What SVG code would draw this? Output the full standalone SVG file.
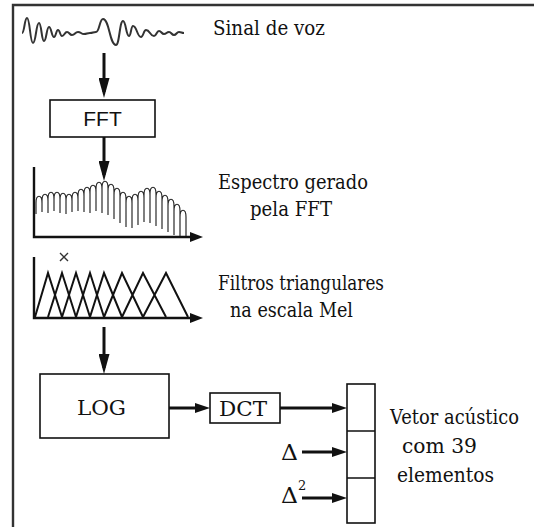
<svg xmlns="http://www.w3.org/2000/svg" width="534" height="527" viewBox="0 0 534 527">
<style>
.t{font-family:"DejaVu Serif","Liberation Serif","Times New Roman",serif;font-size:21px;fill:#111}
.s{font-family:"Liberation Sans",Arial,sans-serif;font-size:21px;fill:#111}
.box{fill:#fff;stroke:#111;stroke-width:1.6}
.ln{fill:none;stroke:#111;stroke-width:3}
.ax{fill:none;stroke:#111;stroke-width:2.4}
.sp{fill:none;stroke:#2a2a2a;stroke-width:1.2}
.tri{fill:none;stroke:#111;stroke-width:2}
</style>
<defs>
<marker id="av" viewBox="0 0 20 11" refX="14" refY="5.5" markerWidth="20" markerHeight="11" markerUnits="userSpaceOnUse" orient="auto"><path d="M0,0 L20,5.5 L0,11 z" fill="#111"/></marker>
<marker id="ah" viewBox="0 0 15 10" refX="9" refY="5" markerWidth="15" markerHeight="10" markerUnits="userSpaceOnUse" orient="auto"><path d="M0,0 L15,5 L0,10 z" fill="#111"/></marker>
</defs>
<rect width="534" height="527" fill="#fff"/>
<g id="frame"><path d="M13,527 V5 H534" fill="none" stroke="#333" stroke-width="2.4"/></g>

<g id="signal">
<path d="M22,33 C24.5,33 24.5,18 27,18 C30,18 30,43 33,43 C36,43 36,23 39,23 C41.5,23 41.5,41 44,41 C46.5,41 46.5,27 49,27 C51.5,27 51.5,37 54,37 C56,37 56,30 58,30 C60,30 60,36 62,36 C64.5,36 64.5,32 67,32 C69.5,32 69.5,35 72,35 C75,35 75,32 78,32 C81,32 81,34 84,34 C87,34 87,33 90,33 C93,33 93,32 96,32 C99.5,32 99.5,19 103,19 C109.5,19 109.5,45 116,45 C119.5,45 119.5,21 123,21 C126,21 126,36 129,36 C131,36 131,26 133,26 C137,26 137,37 141,37 C143.5,37 143.5,30 146,30 C150,30 150,36 154,36 C156.5,36 156.5,31 159,31 C161.5,31 161.5,34 164,34 C166.5,34 166.5,32 169,32 C171.5,32 171.5,35 174,35 C176.5,35 176.5,32 179,32 C181.5,32 181.5,33 184,33" fill="none" stroke="#333" stroke-width="2" stroke-linejoin="round"/>
<text class="t" x="213" y="35" textLength="112" lengthAdjust="spacingAndGlyphs">Sinal de voz</text>
</g>

<g id="fft"><rect class="box" x="50" y="100" width="105" height="37"/><text class="s" x="102.5" y="126" text-anchor="middle">FFT</text></g>

<g id="spectrum">
<path class="ax" d="M34,167 V237 H192"/>
<path d="M190,232 L203,237 L190,242 z" fill="#111"/>
<path class="sp" d="M36,214 V203 C36,194 42,194 42,203 V212 V201 C42,192 48,192 48,201 V213 V199 C48,190 54,190 54,199 V211 V199 C54,190 60,190 60,199 V213 V200 C60,191 66,191 66,200 V214 V201 C66,192 72,192 72,201 V212 V199 C72,190 78,190 78,199 V211 V196 C78,187 84,187 84,196 V212 V194 C84,185 90,185 90,194 V213 V192 C90,183 96,183 96,192 V211 V189 C96,180 102,180 102,189 V213 V188 C102,179 108,179 108,188 V215 V191 C108,182 114,182 114,191 V219 V195 C114,186 120,186 120,195 V223 V199 C120,190 126,190 126,199 V227 V203 C126,194 132,194 132,203 V228 V201 C132,192 138,192 138,201 V225 V198 C138,189 144,189 144,198 V222 V195 C144,186 150,186 150,195 V223 V194 C150,185 156,185 156,194 V226 V198 C156,189 162,189 162,198 V229 V202 C162,193 168,193 168,202 V232 V206 C168,197 174,197 174,206 V235 V211 C174,202 180,202 180,211 V236 V217 C180,208 186,208 186,217 V236"/>
<text class="t" x="218" y="189" textLength="150" lengthAdjust="spacingAndGlyphs">Espectro gerado</text>
<text class="t" x="250" y="216" textLength="82" lengthAdjust="spacingAndGlyphs">pela FFT</text>
</g>

<g id="filters">
<path class="ax" d="M34,257 V318 H192"/>
<path d="M190,313 L203,318 L190,323 z" fill="#111"/>
<path d="M60,253 L68,261 M68,253 L60,261" stroke="#333" stroke-width="1.4"/>
<path class="tri" d="M35,317 L48,273 L62,317 M48,317 L62,273 L76,317 M62,317 L76,273 L90,317 M76,317 L90,273 L104,317 M90,317 L104,273 L122,317 M104,317 L122,273 L143,317 M122,317 L143,273 L166,317 M143,317 L166,273 L188,317"/>
<text class="t" x="218" y="290" textLength="166" lengthAdjust="spacingAndGlyphs">Filtros triangulares</text>
<text class="t" x="230" y="317" textLength="123" lengthAdjust="spacingAndGlyphs">na escala Mel</text>
</g>

<g id="log"><rect class="box" x="40" y="374" width="129" height="64"/><text class="t" x="77" y="415" textLength="49" lengthAdjust="spacingAndGlyphs">LOG</text></g>
<g id="dct"><rect class="box" x="210" y="393" width="70" height="30"/><text class="t" x="219" y="416" textLength="48" lengthAdjust="spacingAndGlyphs">DCT</text></g>

<g id="vector">
<rect class="box" x="347" y="384" width="28" height="139"/>
<path d="M347,431 H375 M347,478 H375" stroke="#111" stroke-width="1.6"/>
<text class="t" x="390" y="424" textLength="129" lengthAdjust="spacingAndGlyphs">Vetor acústico</text>
<text class="t" x="402" y="453" textLength="75" lengthAdjust="spacingAndGlyphs">com 39</text>
<text class="t" x="397" y="482" textLength="97" lengthAdjust="spacingAndGlyphs">elementos</text>
</g>

<g id="delta"><text class="t" x="281" y="460" style="font-size:22px" textLength="17" lengthAdjust="spacingAndGlyphs">Δ</text></g>
<g id="delta2"><text class="t" x="281" y="503" style="font-size:22px" textLength="17" lengthAdjust="spacingAndGlyphs">Δ</text><text class="t" x="298" y="490" style="font-size:13px">2</text></g>

<g id="connectors">
<line class="ln" x1="104" y1="53" x2="104" y2="92" marker-end="url(#av)"/>
<line class="ln" x1="104" y1="137" x2="104" y2="175" marker-end="url(#av)"/>
<line class="ln" x1="104" y1="327" x2="104" y2="368" marker-end="url(#av)"/>
<line class="ln" x1="169" y1="408" x2="204" y2="408" marker-end="url(#ah)"/>
<line class="ln" x1="280" y1="408" x2="341" y2="408" marker-end="url(#ah)"/>
<line class="ln" x1="302" y1="452" x2="341" y2="452" marker-end="url(#ah)"/>
<line class="ln" x1="302" y1="498" x2="341" y2="498" marker-end="url(#ah)"/>
</g>
</svg>
